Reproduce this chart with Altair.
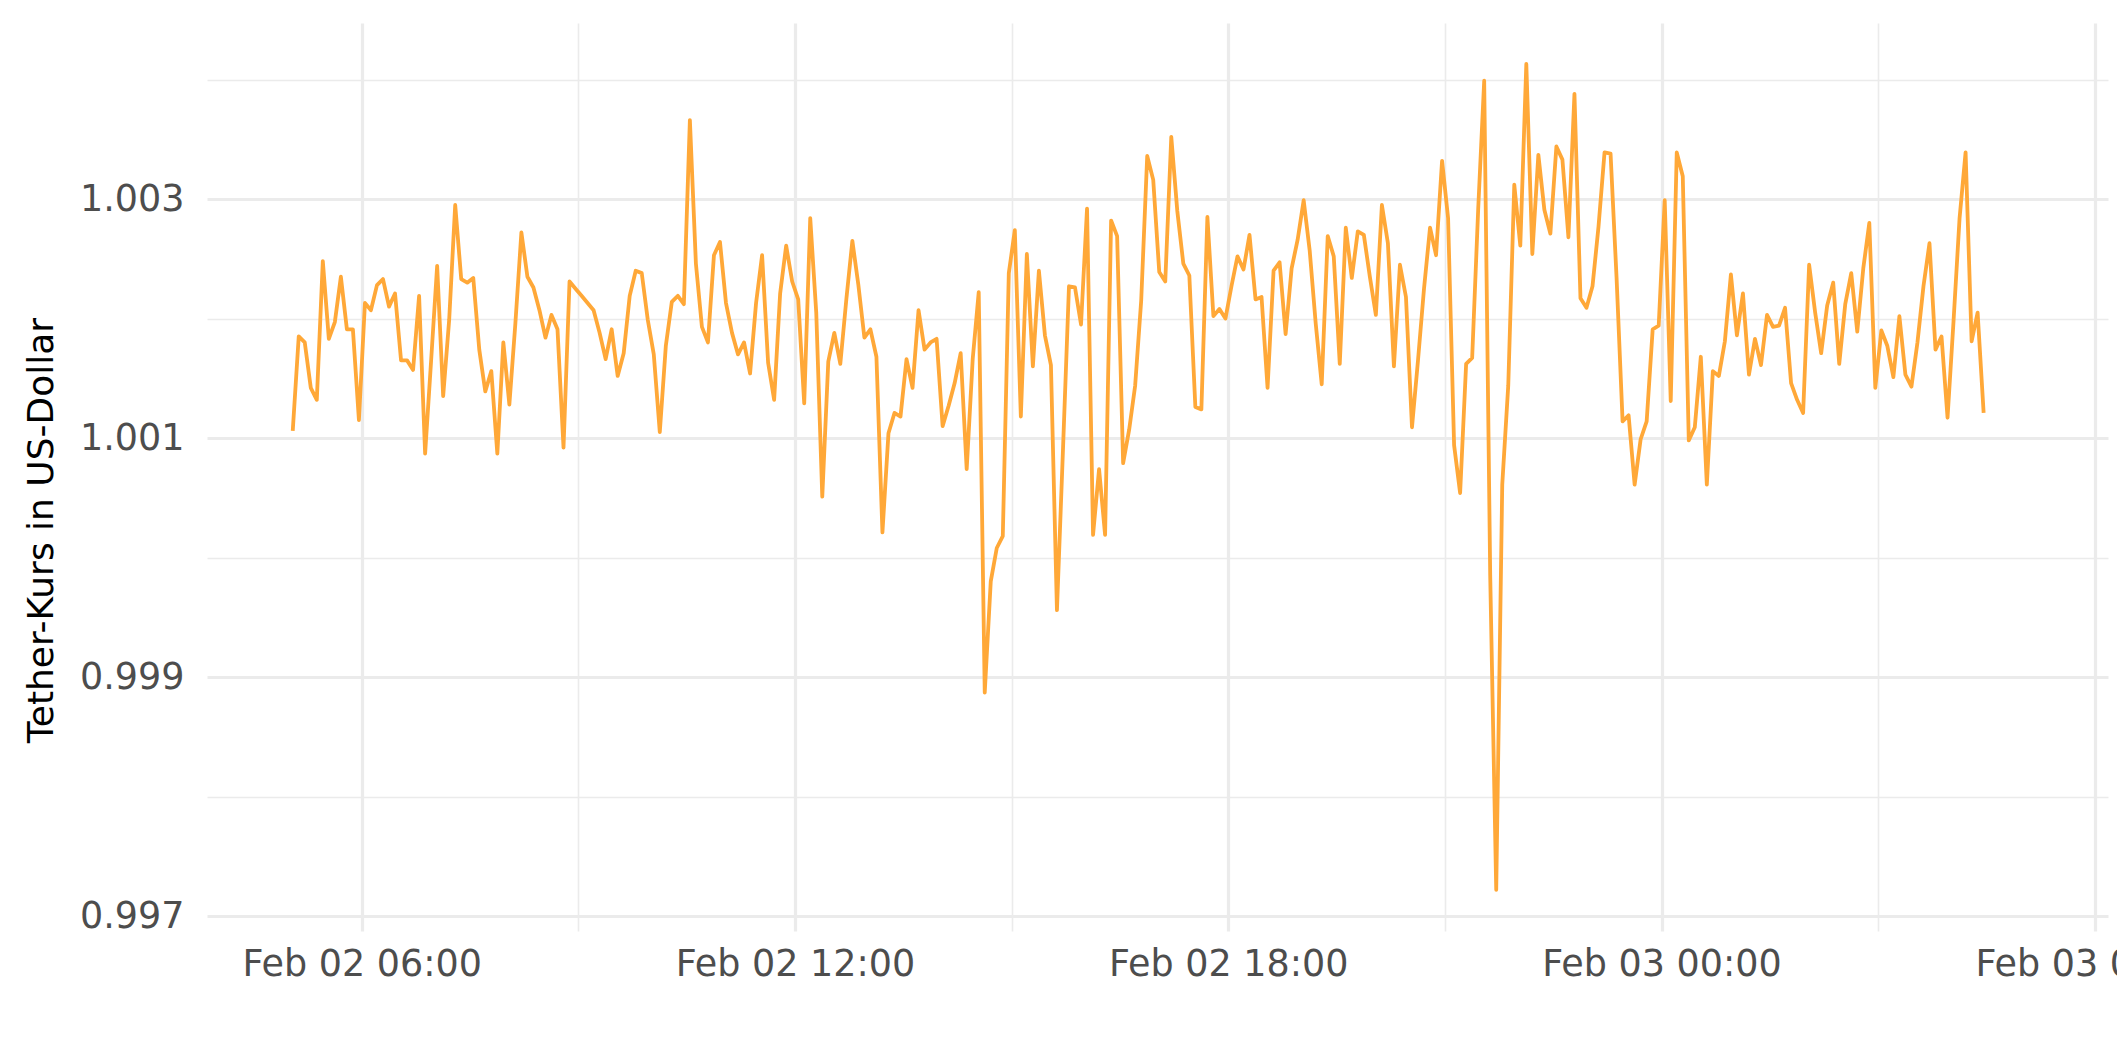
import altair as alt
import pandas as pd

# ---- data ----
start_time = "2018-02-02 05:02:40"
step_minutes = 5

usdt_price = [
    1.00106, 1.00185, 1.00180, 1.00142, 1.00132, 1.00248, 1.00183, 1.00197, 1.00235, 1.00191,
    1.00191, 1.00115, 1.00213, 1.00207, 1.00228, 1.00233, 1.00210, 1.00221, 1.00165, 1.00165,
    1.00157, 1.00219, 1.00087, 1.00165, 1.00244, 1.00135, 1.00199, 1.00295, 1.00233, 1.00230,
    1.00234, 1.00174, 1.00139, 1.00156, 1.00087, 1.00180, 1.00128, 1.00196, 1.00272, 1.00235,
    1.00226, 1.00207, 1.00184, 1.00203, 1.00191, 1.00092, 1.00231, 1.00225, 1.00219, 1.00213,
    1.00207, 1.00188, 1.00166, 1.00191, 1.00152, 1.00171, 1.00219, 1.00240, 1.00238, 1.00199,
    1.00170, 1.00105, 1.00177, 1.00214, 1.00219, 1.00212, 1.00366, 1.00246, 1.00193, 1.00180,
    1.00253, 1.00264, 1.00213, 1.00188, 1.00170, 1.00180, 1.00154, 1.00213, 1.00253, 1.00163,
    1.00132, 1.00221, 1.00261, 1.00231, 1.00216, 1.00129, 1.00284, 1.00205, 1.00051, 1.00164,
    1.00188, 1.00162, 1.00216, 1.00265, 1.00228, 1.00184, 1.00191, 1.00168, 1.00021, 1.00104,
    1.00121, 1.00118, 1.00166, 1.00142, 1.00207, 1.00174, 1.00180, 1.00183, 1.00110, 1.00127,
    1.00146, 1.00171, 1.00074, 1.00166, 1.00222, 0.99887, 0.99980, 1.00008, 1.00018, 1.00238,
    1.00274, 1.00118, 1.00254, 1.00160, 1.00240, 1.00186, 1.00161, 0.99956, 1.00090, 1.00227,
    1.00226, 1.00195, 1.00292, 1.00019, 1.00074, 1.00019, 1.00282, 1.00269, 1.00079, 1.00107,
    1.00144, 1.00215, 1.00336, 1.00316, 1.00239, 1.00231, 1.00352, 1.00290, 1.00246, 1.00236,
    1.00126, 1.00124, 1.00285, 1.00202, 1.00208, 1.00200, 1.00227, 1.00252, 1.00241, 1.00270,
    1.00216, 1.00218, 1.00142, 1.00240, 1.00247, 1.00187, 1.00242, 1.00266, 1.00299, 1.00257,
    1.00196, 1.00145, 1.00269, 1.00252, 1.00162, 1.00276, 1.00234, 1.00273, 1.00270, 1.00235,
    1.00203, 1.00295, 1.00263, 1.00160, 1.00245, 1.00218, 1.00109, 1.00165, 1.00225, 1.00276,
    1.00253, 1.00332, 1.00284, 1.00094, 1.00054, 1.00162, 1.00167, 1.00291, 1.00399, 0.99985,
    0.99722, 1.00061, 1.00144, 1.00312, 1.00261, 1.00413, 1.00254, 1.00337, 1.00291, 1.00271,
    1.00344, 1.00333, 1.00268, 1.00388, 1.00217, 1.00209, 1.00227, 1.00277, 1.00339, 1.00338,
    1.00234, 1.00114, 1.00119, 1.00061, 1.00099, 1.00114, 1.00191, 1.00194, 1.00299, 1.00131,
    1.00339, 1.00319, 1.00098, 1.00109, 1.00168, 1.00061, 1.00156, 1.00152, 1.00181, 1.00237,
    1.00186, 1.00221, 1.00153, 1.00183, 1.00161, 1.00203, 1.00193, 1.00194, 1.00209, 1.00146,
    1.00132, 1.00121, 1.00245, 1.00205, 1.00171, 1.00211, 1.00230, 1.00162, 1.00212, 1.00238,
    1.00189, 1.00242, 1.00280, 1.00142, 1.00190, 1.00177, 1.00151, 1.00202, 1.00153, 1.00143,
    1.00180, 1.00227, 1.00263, 1.00174, 1.00185, 1.00117, 1.00198, 1.00284, 1.00339, 1.00181,
    1.00205, 1.00121,
]

# axis ticks: every 3 hours (labels only on the 6-hour marks)
x_tick_times = [
    (2, 6), (2, 9), (2, 12), (2, 15), (2, 18), (2, 21), (3, 0), (3, 3), (3, 6),
]
y_tick_values = [0.997, 0.998, 0.999, 1.000, 1.001, 1.002, 1.003, 1.004]

x_domain = [(2, 3, 51, 26), (3, 6, 11, 0)]
y_domain = [0.996875, 1.004473]

line_color = "#FFA838"
grid_color = "#EBEBEB"
font = "DejaVu Sans"

# ---- build table ----
times = pd.date_range(start_time, periods=len(usdt_price), freq=f"{step_minutes}min")
df = pd.DataFrame({"zeit": times.strftime("%Y-%m-%dT%H:%M:%S"), "kurs": usdt_price})

x_values = [alt.DateTime(year=2018, month=2, date=d, hours=h) for d, h in x_tick_times]
x_dom = [alt.DateTime(year=2018, month=2, date=d, hours=h, minutes=m, seconds=s)
         for d, h, m, s in x_domain]

x_axis = alt.Axis(
    values=x_values,
    title=None,
    ticks=False,
    domain=False,
    grid=True,
    gridColor=grid_color,
    gridWidth={"condition": {"test": "hours(datum.value) % 6 == 0", "value": 3.2}, "value": 1.6},
    labelExpr="hours(datum.value) % 6 == 0 ? timeFormat(datum.value, '%b %d %H:%M') : ''",
    labelFont=font,
    labelFontSize=36.5,
    labelColor="#4D4D4D",
    labelPadding=15,
    labelLimit=0,
    labelOverlap=False,
    labelFlush=False,
    labelBound=False,
)

y_axis = alt.Axis(
    values=y_tick_values,
    title="Tether-Kurs in US-Dollar",
    ticks=False,
    domain=False,
    grid=True,
    gridColor=grid_color,
    gridWidth={"condition": {"test": "round(datum.value * 1000) % 2 == 1", "value": 3.2},
               "value": 1.6},
    labelExpr="round(datum.value * 1000) % 2 == 1 ? format(datum.value, '.3f') : ''",
    labelFont=font,
    labelFontSize=36.5,
    labelColor="#4D4D4D",
    labelPadding=23,
    labelLimit=0,
    labelOverlap=False,
    labelFlush=False,
    titleFont=font,
    titleFontSize=36,
    titleFontWeight="normal",
    titleColor="#000000",
    titleAngle=270,
    titleAlign="center",
    titleBaseline="middle",
    titleX=-166,
    titleY=507,
)

chart = (
    alt.Chart(df)
    .mark_line(color=line_color, strokeWidth=3.8, strokeJoin="round")
    .encode(
        x=alt.X("zeit:T", scale=alt.Scale(domain=x_dom, nice=False), axis=x_axis),
        y=alt.Y("kurs:Q", scale=alt.Scale(domain=y_domain, nice=False, zero=False), axis=y_axis),
    )
    .properties(
        width=1901,
        height=908,
        autosize=alt.AutoSizeParams(type="none"),
        padding={"left": 199, "top": 15, "right": 9, "bottom": 110},
        background="white",
    )
    .configure_view(stroke=None)
)

chart.save("out.html", embed_options={"renderer": "svg", "actions": False})
